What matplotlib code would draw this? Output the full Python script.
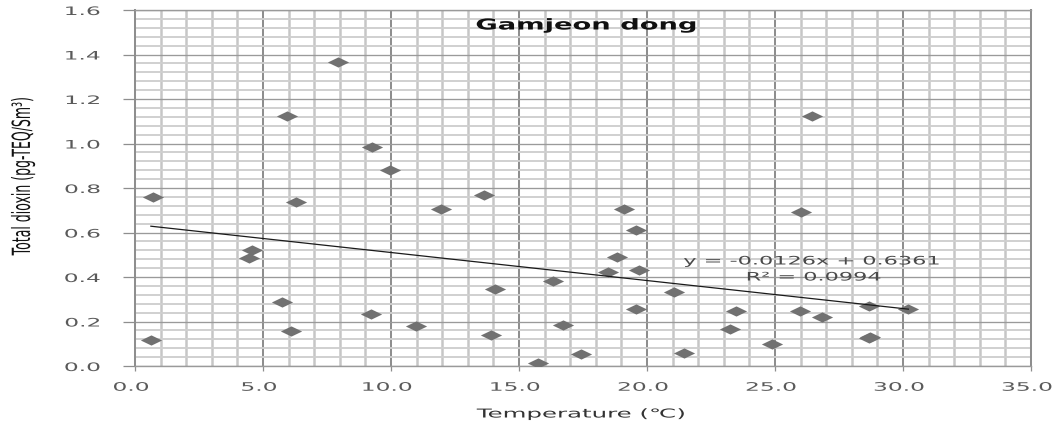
import matplotlib
matplotlib.use("Agg")
import matplotlib.pyplot as plt
import matplotlib.patheffects as pe
from matplotlib.path import Path
from matplotlib.transforms import Affine2D
from matplotlib.ticker import MultipleLocator, FixedLocator, FixedFormatter

# Measured air temperature (deg C) and total dioxin concentration
temperature = [0.62, 0.71, 4.47, 4.58, 5.73, 6.09, 5.92, 6.29, 7.92, 9.24,
               9.96, 11.94, 13.63, 19.10, 26.46, 26.00, 9.20, 10.98, 14.06, 13.89,
               15.73, 16.34, 16.73, 17.41, 18.46, 18.81, 19.57, 19.69, 19.57, 21.07,
               21.46, 23.46, 23.24, 24.90, 25.98, 26.85, 28.67, 28.67, 28.72, 30.21]
dioxin = [0.117, 0.758, 0.484, 0.521, 0.288, 0.157, 1.125, 0.738, 1.365, 0.986,
          0.881, 0.706, 0.769, 0.706, 1.125, 0.694, 0.232, 0.180, 0.345, 0.141,
          0.015, 0.384, 0.183, 0.054, 0.421, 0.491, 0.611, 0.430, 0.258, 0.334,
          0.058, 0.249, 0.166, 0.097, 0.247, 0.220, 0.270, 0.127, 0.132, 0.256]

# Linear trendline
slope = -0.0126
intercept = 0.6361
r_squared = 0.0994

x_ticks = [0, 5, 10, 15, 20, 25, 30, 35]
y_ticks = [0.0, 0.2, 0.4, 0.6, 0.8, 1.0, 1.2, 1.4, 1.6]
x_tick_labels = [f"{v:.1f}" for v in x_ticks]
y_tick_labels = [f"{v:.1f}" for v in y_ticks]

title = "Gamjeon dong"
x_label = "Temperature (\u2103)"
y_label = "Total dioxin (pg-TEQ/Sm\u00b3)"


class Widen(pe.AbstractPathEffect):
    """Stretch glyph outlines horizontally (in display space) around an anchor."""

    def __init__(self, factor, anchor="center", shift=0.0):
        super().__init__()
        self._factor = factor
        self._anchor = anchor
        self._shift = shift

    def draw_path(self, renderer, gc, tpath, affine, rgbFace=None):
        ext = tpath.get_extents(affine)
        if self._anchor == "right":
            x0 = ext.x1
        elif self._anchor == "left":
            x0 = ext.x0
        else:
            x0 = 0.5 * (ext.x0 + ext.x1)
        tr = affine + Affine2D().translate(-x0, 0).scale(self._factor, 1).translate(x0 + self._shift, 0)
        renderer.draw_path(gc, tpath, tr, rgbFace)


fig = plt.figure(figsize=(10.56, 4.26), dpi=100)
ax = fig.add_axes([135 / 1056, 1 - 366 / 426, 896 / 1056, 356 / 426])

ax.set_xlim(0, 35)
ax.set_ylim(0, 1.6)

# grid: light minor lines, darker major lines
ax.xaxis.set_major_locator(FixedLocator(x_ticks))
ax.yaxis.set_major_locator(FixedLocator(y_ticks))
ax.xaxis.set_major_formatter(FixedFormatter(x_tick_labels))
ax.yaxis.set_major_formatter(FixedFormatter(y_tick_labels))
ax.xaxis.set_minor_locator(MultipleLocator(1))
ax.yaxis.set_minor_locator(MultipleLocator(0.04))
ax.set_axisbelow(True)
ax.xaxis.grid(True, which="minor", color="#c6c6c6", linewidth=1.8)
ax.xaxis.grid(True, which="major", color="#8e8e8e", linewidth=1.45)
ax.yaxis.grid(True, which="minor", color="#cfcfcf", linewidth=1.35)
ax.yaxis.grid(True, which="major", color="#9a9a9a", linewidth=0.95)

for side in ("left", "right"):
    ax.spines[side].set_color("#8e8e8e")
    ax.spines[side].set_linewidth(1.45)
for side in ("top", "bottom"):
    ax.spines[side].set_color("#9a9a9a")
    ax.spines[side].set_linewidth(1.0)

ax.tick_params(which="minor", length=0)
ax.tick_params(axis="y", which="major", direction="out", length=8.6, width=0.9,
               color="#8e8e8e", pad=16.5, labelsize=8.4, labelcolor="#5a5a5a")
ax.tick_params(axis="x", which="major", direction="out", length=3.6, width=0.9,
               color="#8e8e8e", pad=7.0, labelsize=8.4, labelcolor="#5a5a5a")

for lab in ax.get_yticklabels():
    lab.set_path_effects([Widen(2.0, anchor="right")])
for lab in ax.get_xticklabels():
    lab.set_path_effects([Widen(2.0, shift=-4)])

# stretched diamond marker
diamond = Path([(-0.5, 0.0), (0.0, 0.24), (0.5, 0.0), (0.0, -0.24), (-0.5, 0.0)],
               [Path.MOVETO, Path.LINETO, Path.LINETO, Path.LINETO, Path.CLOSEPOLY])
ax.plot(temperature, dioxin, linestyle="none", marker=diamond, markersize=15.3,
        markerfacecolor="#717171", markeredgewidth=0, zorder=3)

x_fit = [min(temperature), max(temperature)]
y_fit = [slope * v + intercept for v in x_fit]
ax.plot(x_fit, y_fit, color="#1a1a1a", linewidth=0.9, zorder=4)

eq = ax.text(26.43, 0.472, f"y = {slope:.4f}x + {intercept:.4f}", ha="center", va="center",
             fontsize=8.4, color="#4a4a4a", zorder=5)
eq.set_path_effects([Widen(1.92)])
r2 = ax.text(26.52, 0.40, f"R\u00b2 = {r_squared:.4f}", ha="center", va="center",
             fontsize=8.4, color="#4a4a4a", zorder=5)
r2.set_path_effects([Widen(1.92)])

t = ax.text((586 - 135) / 896, (366 - 25) / 356, title, transform=ax.transAxes,
            ha="center", va="center", fontsize=10.8, fontweight="bold", color="#111111", zorder=5)
t.set_path_effects([Widen(1.82)])

ax.set_xlabel(x_label, fontsize=8.8, color="#333333", va="center", ha="center")
ax.xaxis.set_label_coords((581 - 135) / 896, (366 - 414) / 356)
ax.xaxis.label.set_path_effects([Widen(2.0)])

ax.set_ylabel(y_label, fontsize=9.0, color="#111111", va="center", ha="center")
ax.yaxis.set_label_coords((23 - 135) / 896, (366 - 176) / 356)
ax.yaxis.label.set_path_effects([Widen(2.0)])

fig.savefig("out.png", dpi=100)
